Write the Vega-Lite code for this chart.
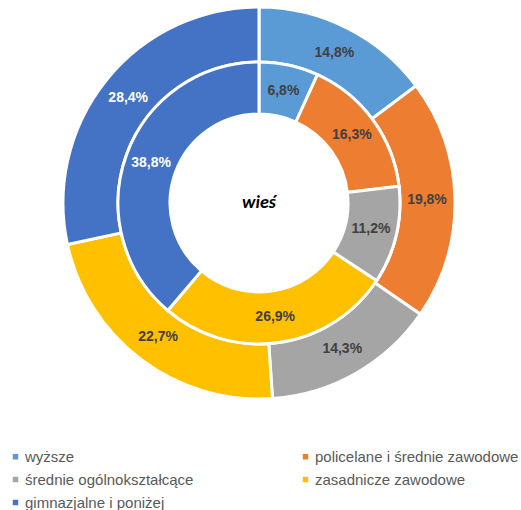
{
  "$schema": "https://vega.github.io/schema/vega-lite/v6.json",
  "width": 518,
  "height": 406,
  "autosize": {"type": "none"},
  "padding": {"left": 0, "top": 0, "right": 3, "bottom": 104},
  "background": "white",
  "config": {"view": {"stroke": null}},
  "data": {
    "values": [
      {"cat": "wyższe", "ring": "outer", "v": 14.8, "o": 1, "label": "14,8%"},
      {"cat": "policelane i średnie zawodowe", "ring": "outer", "v": 19.8, "o": 2, "label": "19,8%"},
      {"cat": "średnie ogólnokształcące", "ring": "outer", "v": 14.3, "o": 3, "label": "14,3%"},
      {"cat": "zasadnicze zawodowe", "ring": "outer", "v": 22.7, "o": 4, "label": "22,7%"},
      {"cat": "gimnazjalne i poniżej", "ring": "outer", "v": 28.4, "o": 5, "label": "28,4%"},
      {"cat": "wyższe", "ring": "inner", "v": 6.8, "o": 1, "label": "6,8%"},
      {"cat": "policelane i średnie zawodowe", "ring": "inner", "v": 16.3, "o": 2, "label": "16,3%"},
      {"cat": "średnie ogólnokształcące", "ring": "inner", "v": 11.2, "o": 3, "label": "11,2%"},
      {"cat": "zasadnicze zawodowe", "ring": "inner", "v": 26.9, "o": 4, "label": "26,9%"},
      {"cat": "gimnazjalne i poniżej", "ring": "inner", "v": 38.8, "o": 5, "label": "38,8%"}
    ]
  },
  "layer": [
    {
      "transform": [{"filter": "datum.ring === 'outer'"}],
      "mark": {"type": "arc", "radius": 196, "radius2": 141, "stroke": "white", "strokeWidth": 3},
      "encoding": {
        "theta": {"field": "v", "type": "quantitative", "stack": true},
        "order": {"field": "o", "type": "quantitative"},
        "color": {
          "field": "cat",
          "type": "nominal",
          "scale": {
            "domain": ["wyższe", "policelane i średnie zawodowe", "średnie ogólnokształcące", "zasadnicze zawodowe", "gimnazjalne i poniżej"],
            "range": ["#5B9BD5", "#ED7D31", "#A5A5A5", "#FFC000", "#4472C4"]
          },
          "legend": {
            "title": null,
            "orient": "none",
            "legendX": 8,
            "legendY": 449,
            "direction": "horizontal",
            "columns": 2,
            "columnPadding": 104,
            "rowPadding": 7,
            "padding": 0,
            "symbolType": "square",
            "symbolSize": 30,
            "symbolStrokeWidth": 0,
            "labelFont": "Liberation Sans",
            "labelFontSize": 15,
            "labelColor": "#595959",
            "labelOffset": 2,
            "labelLimit": 300
          }
        }
      }
    },
    {
      "transform": [{"filter": "datum.ring === 'inner'"}],
      "mark": {"type": "arc", "radius": 141, "radius2": 89, "stroke": "white", "strokeWidth": 3},
      "encoding": {
        "theta": {"field": "v", "type": "quantitative", "stack": true},
        "order": {"field": "o", "type": "quantitative"},
        "color": {"field": "cat", "type": "nominal"}
      }
    },
    {
      "transform": [{"filter": "datum.ring === 'outer'"}],
      "mark": {"type": "text", "radius": 168, "font": "Liberation Sans", "fontSize": 14, "fontWeight": "bold"},
      "encoding": {
        "theta": {"field": "v", "type": "quantitative", "stack": true},
        "order": {"field": "o", "type": "quantitative"},
        "text": {"field": "label"},
        "color": {"condition": {"test": "datum.cat === 'gimnazjalne i poniżej'", "value": "white"}, "value": "#404040"}
      }
    },
    {
      "transform": [{"filter": "datum.ring === 'inner'"}],
      "mark": {"type": "text", "radius": 115, "font": "Liberation Sans", "fontSize": 14, "fontWeight": "bold"},
      "encoding": {
        "theta": {"field": "v", "type": "quantitative", "stack": true},
        "order": {"field": "o", "type": "quantitative"},
        "text": {"field": "label"},
        "color": {"condition": {"test": "datum.cat === 'gimnazjalne i poniżej'", "value": "white"}, "value": "#404040"}
      }
    },
    {
      "data": {"values": [{"t": "wieś"}]},
      "mark": {"type": "text", "font": "Carlito, Lato, Open Sans", "fontSize": 18, "fontWeight": "bold", "fontStyle": "italic", "color": "black"},
      "encoding": {"text": {"field": "t"}}
    }
  ]
}
